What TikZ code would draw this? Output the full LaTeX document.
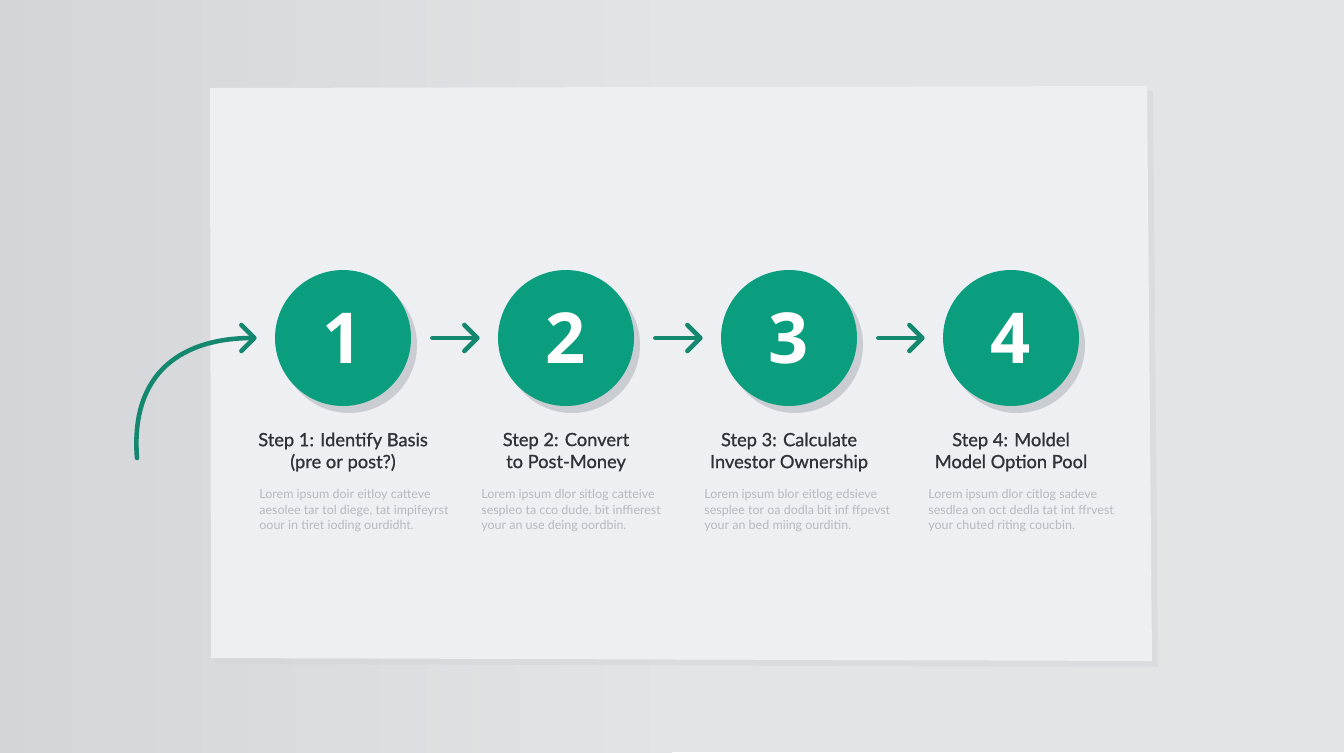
\documentclass[tikz,border=0pt]{standalone}
\usepackage{fontspec}
\setmainfont{Lato}
\newfontfamily\numfont{Open Sans}
\newfontfamily\titlefont{Lato}[FakeBold=0.9]
\usetikzlibrary{arrows.meta}

\definecolor{wallgray}{HTML}{E3E4E6}
\definecolor{wallshade}{HTML}{D4D5D9}
\definecolor{paperwhite}{HTML}{EEEFF3}
\definecolor{stepgreen}{HTML}{0A9E7F}
\definecolor{arrowgreen}{HTML}{14876F}
\definecolor{titlegray}{HTML}{2F3237}
\definecolor{loremgray}{HTML}{B6B9BF}
\definecolor{dropgray}{HTML}{C9CCD1}

\begin{document}
\begin{tikzpicture}[x=0.02cm, y=-0.02cm,
	stepcircle/.style={circle, fill=stepgreen, inner sep=0pt, minimum size=2.72cm,
		text=white, font=\numfont\bfseries\fontsize{40}{40}\selectfont},
	stepshadow/.style={circle, fill=dropgray, inner sep=0pt, minimum size=2.72cm},
	steptitle/.style={align=center, text=titlegray, font=\titlefont\fontsize{10.4}{12.5}\selectfont},
	steplorem/.style={align=left, anchor=north west, inner sep=0pt, text=loremgray,
		font=\fontsize{7.1}{8.9}\selectfont},
	flow/.style={draw=arrowgreen, line width=2.6pt, line cap=round,
		-{Straight Barb[length=2.6mm, width=5.2mm, line cap=round, line join=round]},
		shorten <=0.42cm, shorten >=0.36cm},
	]

	\def \Row {338}
	\def \TitleRow {452}
	\def \LoremRow {489}

	% wall and sheet
	\useasboundingbox (0,0) rectangle (1344,752);
	\shade[left color=wallshade, right color=wallgray] (0,0) rectangle (672,752);
	\fill[wallgray] (672,0) rectangle (1344,752);
	\fill[wallshade, opacity=0.5] (214,93) -- (1153,91) -- (1158,667) -- (215,664) -- cycle;
	\fill[paperwhite] (210,88) -- (1147,86) -- (1152,661) -- (211,658) -- cycle;

	% shadows under the circles
	\node (S1) at (349,345) [stepshadow] {};
	\node (S2) at (572,345) [stepshadow] {};
	\node (S3) at (795,345) [stepshadow] {};
	\node (S4) at (1017,345) [stepshadow] {};

	\node (C1) at (343,\Row) [stepcircle] {1};
	\node (C2) at (566,\Row) [stepcircle] {2};
	\node (C3) at (789,\Row) [stepcircle] {3};
	\node (C4) at (1011,\Row) [stepcircle] {4};

	\node (T1) at (343,\TitleRow) [steptitle] {Step 1: Identify Basis\\(pre or post?)};
	\node (T2) at (566,\TitleRow) [steptitle] {Step 2: Convert\\to Post-Money};
	\node (T3) at (789,\TitleRow) [steptitle] {Step 3: Calculate\\Investor Ownership};
	\node (T4) at (1011,\TitleRow) [steptitle] {Step 4: Moldel\\Model Option Pool};

	\node (L1) at (259,\LoremRow) [steplorem] {Lorem ipsum doir eitloy catteve\\aesolee tar tol diege, tat impifeyrst\\oour in tiret ioding ourdidht.};
	\node (L2) at (481,\LoremRow) [steplorem] {Lorem ipsum dlor sitlog catteive\\sespleo ta cco dude, bit inffierest\\your an use deing oordbin.};
	\node (L3) at (704,\LoremRow) [steplorem] {Lorem ipsum blor eitlog edsieve\\sesplee tor oa dodla bit inf ffpevst\\your an bed miing ourditin.};
	\node (L4) at (928,\LoremRow) [steplorem] {Lorem ipsum dlor citlog sadeve\\sesdlea on oct dedla tat int ffrvest\\your chuted riting coucbin.};

	\coordinate (start) at (137,458);

	\draw[flow, shorten <=0pt] (start) .. controls (130,370) and (185,338) .. (C1.west);
	\draw[flow] (C1) -- (C2);
	\draw[flow] (C2) -- (C3);
	\draw[flow] (C3) -- (C4);

\end{tikzpicture}
\end{document}
